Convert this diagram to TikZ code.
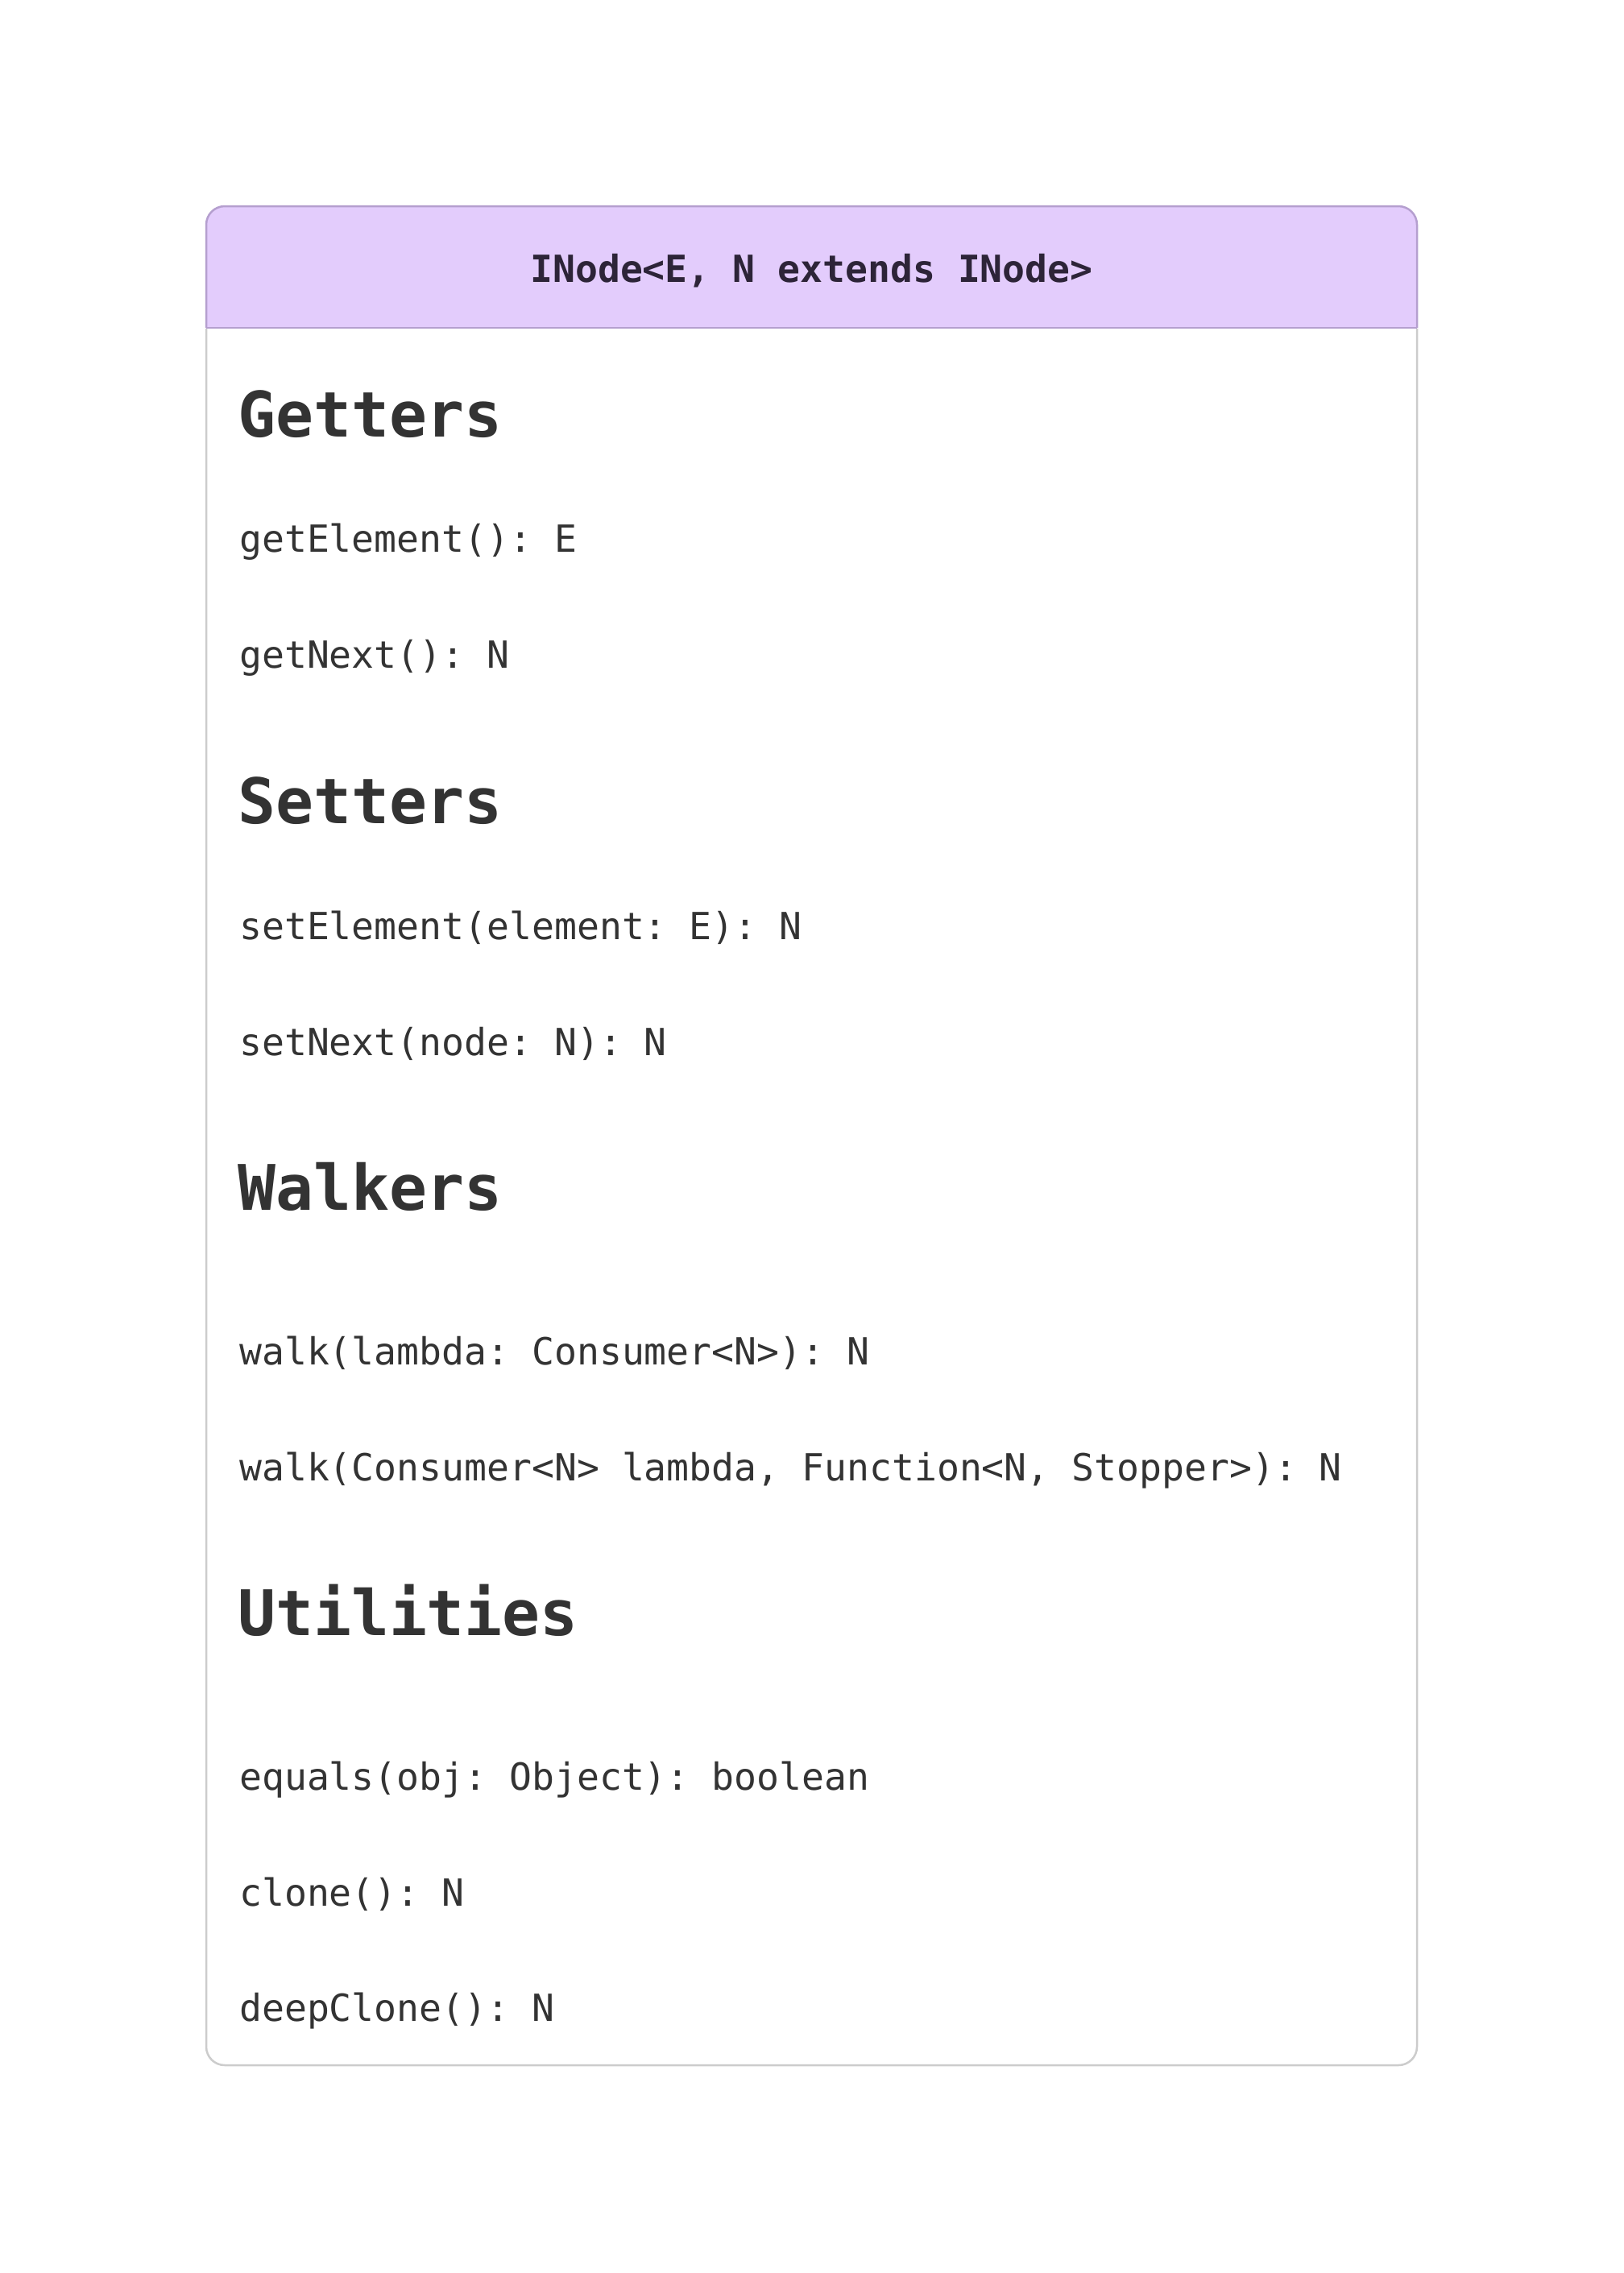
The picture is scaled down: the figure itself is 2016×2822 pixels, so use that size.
\documentclass[tikz,border=0pt]{standalone}
\usepackage{fontspec}
\setmonofont{DejaVu Sans Mono}
\definecolor{headfill}{HTML}{E3CCFC}
\definecolor{headline}{HTML}{B59FCF}
\definecolor{bodyline}{HTML}{CCCCCC}
\definecolor{txt}{HTML}{333333}
\definecolor{headtxt}{HTML}{2D2438}
\begin{document}
\begin{tikzpicture}[x=1pt,y=-1pt,
  method/.style={anchor=base west,inner sep=0pt,text=txt,font=\ttfamily\fontsize{46.4}{50}\selectfont},
  section/.style={anchor=base west,inner sep=0pt,text=txt,font=\ttfamily\bfseries\fontsize{78}{80}\selectfont},
  title/.style={anchor=base,inner sep=0pt,text=headtxt,font=\ttfamily\bfseries\fontsize{46.4}{50}\selectfont}]
\useasboundingbox (0,0) rectangle (2016,2822);
\fill[white] (0,0) rectangle (2016,2822);
% header
\fill[headfill,rounded corners=23pt] (256,256) rectangle (1759,407);
\fill[headfill] (256,330) rectangle (1759,407);
\draw[headline,line width=2.5pt] (256,407) [rounded corners=23pt] -- (256,256) -- (1759,256) -- (1759,407);
% body
\draw[bodyline,line width=2.5pt] (256,408) [rounded corners=23pt] -- (256,2564) -- (1759,2564) -- (1759,408);
\draw[headline,line width=2.5pt] (256,407) -- (1759,407);
\node[title] (t) at (1007.5,350) {INode<E, N extends INode>};
\node[section] (s1) at (295,542) {Getters};
\node[method] (m1) at (297,685) {getElement(): E};
\node[method] (m2) at (297,829) {getNext(): N};
\node[section] (s2) at (295,1022) {Setters};
\node[method] (m3) at (297,1166) {setElement(element: E): N};
\node[method] (m4) at (297,1310) {setNext(node: N): N};
\node[section] (s3) at (295,1502) {Walkers};
\node[method] (m5) at (297,1694) {walk(lambda: Consumer<N>): N};
\node[method] (m6) at (297,1838) {walk(Consumer<N> lambda, Function<N, Stopper>): N};
\node[section] (s4) at (295,2030) {Utilities};
\node[method] (m7) at (297,2222) {equals(obj: Object): boolean};
\node[method] (m8) at (297,2366) {clone(): N};
\node[method] (m9) at (297,2509) {deepClone(): N};
\end{tikzpicture}
\end{document}
